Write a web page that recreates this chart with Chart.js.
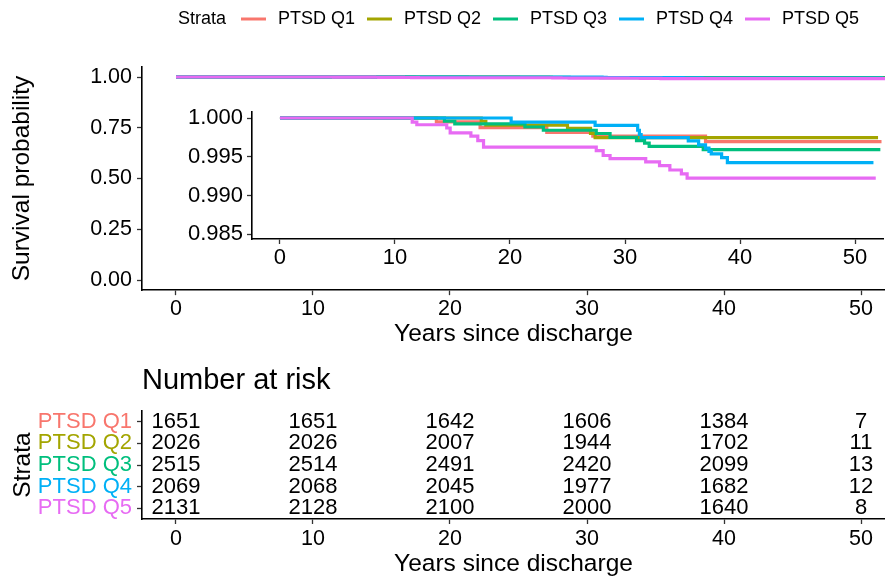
<!DOCTYPE html>
<html>
<head>
<meta charset="utf-8">
<script src="https://cdn.jsdelivr.net/npm/chart.js@4.4.0/dist/chart.umd.min.js"></script>
<style>
    html, body { margin: 0; padding: 0; background: #ffffff; }
    #wrap   { position: relative; width: 885px; height: 579px; overflow: hidden; background: #ffffff; }
    canvas  { position: absolute; }
    #main   { left: 0;     top: 0; }
    #inset  { left: 150px; top: 95px; }
    #risk   { left: 0;     top: 350px; }
</style>
</head>
<body>
<div id="wrap">
    <canvas id="main"  width="885" height="350"></canvas>
    <canvas id="inset" width="735" height="190"></canvas>
    <canvas id="risk"  width="885" height="229"></canvas>
</div>
<script>
/* ---- data ---- */

var STRATA = ['PTSD Q1', 'PTSD Q2', 'PTSD Q3', 'PTSD Q4', 'PTSD Q5'];

// Kaplan-Meier steps: time of each event and survival after it (last entry = end of follow-up)
var Q1_TIME = [0, 13.6, 17.4, 23.2, 27.2, 37.0, 52.3];
var Q1_SURV = [1, 0.99950, 0.99875, 0.99813, 0.99766, 0.99696, 0.99696];

var Q2_TIME = [0, 17.5, 17.9, 25.0, 27.0, 27.4, 52.0];
var Q2_SURV = [1, 0.99958, 0.99908, 0.99868, 0.99800, 0.99748, 0.99748];

var Q3_TIME = [0, 14.3, 15.2, 21.3, 22.9, 27.5, 28.7, 31.0, 31.7, 32.1, 36.8, 52.2];
var Q3_SURV = [1, 0.99958, 0.99925, 0.99884, 0.99842, 0.99800, 0.99750, 0.99709, 0.99675, 0.99634, 0.99592, 0.99592];

var Q4_TIME = [0, 20.1, 27.4, 31.1, 31.25, 31.4, 35.5, 36.4, 37.0, 37.3, 37.5, 38.4, 38.9, 51.6];
var Q4_SURV = [1, 0.99946, 0.99904, 0.99842, 0.99787, 0.99746, 0.99704, 0.99654, 0.99612, 0.99570, 0.99538, 0.99488, 0.99425, 0.99425];

var Q5_TIME = [0, 11.5, 11.9, 14.5, 14.8, 16.6, 17.2, 17.7, 27.5, 28.1, 28.7, 31.8, 33.0, 33.9, 34.9, 35.4, 51.8];
var Q5_SURV = [1, 0.99946, 0.99913, 0.99871, 0.99809, 0.99766, 0.99709, 0.99625, 0.99579, 0.99516, 0.99475, 0.99433, 0.99384, 0.99329, 0.99279, 0.99225, 0.99225];

var RISK_TIMES = [0, 10, 20, 30, 40, 50];
var RISK_Q1 = [1651, 1651, 1642, 1606, 1384, 7];
var RISK_Q2 = [2026, 2026, 2007, 1944, 1702, 11];
var RISK_Q3 = [2515, 2514, 2491, 2420, 2099, 13];
var RISK_Q4 = [2069, 2068, 2045, 1977, 1682, 12];
var RISK_Q5 = [2131, 2128, 2100, 2000, 1640, 8];

var X_TICKS       = [0, 10, 20, 30, 40, 50];
var Y_TICKS       = [0, 0.25, 0.5, 0.75, 1];
var INSET_Y_TICKS = [0.985, 0.99, 0.995, 1.0];

var LEGEND_TITLE = 'Strata';
var TABLE_TITLE  = 'Number at risk';
var X_TITLE      = 'Years since discharge';
var Y_TITLE      = 'Survival probability';

/* ---- style ---- */

var COLORS = ['#F8766D', '#A3A500', '#00BF7D', '#00B0F6', '#E76BF3'];
var FONT   = "'Liberation Sans', Arial, sans-serif";

var CURVES = [
    [Q1_TIME, Q1_SURV], [Q2_TIME, Q2_SURV], [Q3_TIME, Q3_SURV],
    [Q4_TIME, Q4_SURV], [Q5_TIME, Q5_SURV]
];
var RISKS = [RISK_Q1, RISK_Q2, RISK_Q3, RISK_Q4, RISK_Q5];

function curveSets(width) {
    return CURVES.map(function (c, k) {
        return {
            label: STRATA[k],
            data: c[0].map(function (t, i) { return { x: t, y: c[1][i] }; }),
            borderColor: COLORS[k],
            borderWidth: width,
            pointRadius: 0,
            fill: false,
            stepped: true,
            order: STRATA.length - k
        };
    });
}

function marks() {
    return { display: true, drawOnChartArea: false, drawTicks: true,
             tickLength: 5, tickWidth: 1.3, tickColor: '#333333' };
}

function setTicks(list) {
    return function (scale) {
        scale.ticks = list.map(function (v) { return { value: v }; });
    };
}

function fixWidth(w)  { return function (scale) { scale.width = w; }; }
function fixHeight(h) { return function (scale) { scale.height = h; }; }

var quiet = {
    legend:  { display: false },
    tooltip: { enabled: false },
    title:   { display: false }
};

/* ---- legend across the top ---- */

var strataLegend = {
    id: 'strataLegend',
    afterDraw: function (chart) {
        var ctx = chart.ctx, y = 19;
        ctx.save();
        ctx.font = '18px ' + FONT;
        ctx.textBaseline = 'middle';
        ctx.textAlign = 'left';
        ctx.fillStyle = '#000000';
        ctx.fillText(LEGEND_TITLE, 178, y);
        STRATA.forEach(function (name, k) {
            var tx = 278 + k * 126;
            ctx.strokeStyle = COLORS[k];
            ctx.lineWidth = 3;
            ctx.beginPath();
            ctx.moveTo(tx - 37, y);
            ctx.lineTo(tx - 12, y);
            ctx.stroke();
            ctx.fillText(name, tx, y);
        });
        ctx.restore();
    }
};

/* ---- main survival plot ---- */

new Chart(document.getElementById('main'), {
    type: 'line',
    data: { datasets: curveSets(3.2) },
    options: {
        responsive: false,
        animation: false,
        events: [],
        layout: { autoPadding: false, padding: { top: 66.85, left: 0, right: 0, bottom: 0 } },
        plugins: quiet,
        scales: {
            x: {
                type: 'linear', min: -2.48, max: 51.75,
                afterBuildTicks: setTicks(X_TICKS),
                afterFit: fixHeight(59.85),
                grid: marks(),
                border: { display: true, color: '#000000', width: 1.6 },
                ticks: { color: '#000000', font: { family: FONT, size: 21.5 }, padding: 1.5,
                         maxRotation: 0, autoSkip: false },
                title: { display: true, text: X_TITLE, color: '#000000',
                         font: { family: FONT, size: 24.5 }, padding: { top: 0, bottom: 1 } }
            },
            y: {
                type: 'linear', min: -0.05, max: 1.05,
                afterBuildTicks: setTicks(Y_TICKS),
                afterFit: fixWidth(142),
                grid: marks(),
                border: { display: true, color: '#000000', width: 1.6 },
                ticks: { color: '#000000', font: { family: FONT, size: 21.5 }, padding: 5,
                         autoSkip: false,
                         callback: function (v) { return Number(v).toFixed(2); } },
                title: { display: true, text: Y_TITLE, color: '#000000',
                         font: { family: FONT, size: 24.5 }, padding: { top: 7.6, bottom: 0 } }
            }
        }
    },
    plugins: [strataLegend]
});

/* ---- zoomed inset ---- */

new Chart(document.getElementById('inset'), {
    type: 'line',
    data: { datasets: curveSets(3.2) },
    options: {
        responsive: false,
        animation: false,
        events: [],
        layout: { autoPadding: false, padding: { top: 13, left: 0, right: 2, bottom: 0 } },
        plugins: quiet,
        scales: {
            x: {
                type: 'linear', min: -2.43, max: 52.43,
                afterBuildTicks: setTicks(X_TICKS),
                afterFit: fixHeight(46),
                grid: marks(),
                border: { display: true, color: '#000000', width: 1.6 },
                ticks: { color: '#000000', font: { family: FONT, size: 22 }, padding: 1,
                         maxRotation: 0, autoSkip: false }
            },
            y: {
                type: 'linear', min: 0.98438, max: 1.00075,
                afterBuildTicks: setTicks(INSET_Y_TICKS),
                afterFit: fixWidth(102),
                grid: marks(),
                border: { display: true, color: '#000000', width: 1.6 },
                ticks: { color: '#000000', font: { family: FONT, size: 22 }, padding: 4,
                         autoSkip: false,
                         callback: function (v) { return Number(v).toFixed(3); } }
            }
        }
    }
});

/* ---- number at risk table ---- */

var riskText = {
    id: 'riskText',
    afterDatasetsDraw: function (chart) {
        var ctx = chart.ctx;
        ctx.save();
        ctx.fillStyle = '#000000';
        ctx.font = '22px ' + FONT;
        ctx.textAlign = 'center';
        ctx.textBaseline = 'middle';
        chart.data.datasets.forEach(function (ds, i) {
            chart.getDatasetMeta(i).data.forEach(function (pt, j) {
                ctx.fillText(String(ds.data[j].n), pt.x, pt.y);
            });
        });
        ctx.textAlign = 'left';
        ctx.font = '29px ' + FONT;
        ctx.fillText(TABLE_TITLE, chart.chartArea.left, 31);
        ctx.restore();
    }
};

new Chart(document.getElementById('risk'), {
    type: 'scatter',
    data: {
        datasets: RISKS.map(function (row, k) {
            return {
                label: STRATA[k],
                data: RISK_TIMES.map(function (t, i) { return { x: t, y: STRATA[k], n: row[i] }; }),
                pointRadius: 0,
                showLine: false
            };
        })
    },
    options: {
        responsive: false,
        animation: false,
        events: [],
        layout: { autoPadding: false, padding: { top: 61, left: 0, right: 0, bottom: 0 } },
        plugins: quiet,
        scales: {
            x: {
                type: 'linear', min: -2.48, max: 51.75,
                afterBuildTicks: setTicks(X_TICKS),
                afterFit: fixHeight(60),
                grid: marks(),
                border: { display: true, color: '#000000', width: 1.6 },
                ticks: { color: '#000000', font: { family: FONT, size: 21.5 }, padding: 2.5,
                         maxRotation: 0, autoSkip: false },
                title: { display: true, text: X_TITLE, color: '#000000',
                         font: { family: FONT, size: 24.5 }, padding: { top: 0, bottom: 0 } }
            },
            y: {
                type: 'category', labels: STRATA, offset: true,
                afterFit: fixWidth(142),
                grid: Object.assign(marks(), { offset: false }),
                border: { display: true, color: '#000000', width: 1.6 },
                ticks: { font: { family: FONT, size: 22 }, padding: 5, autoSkip: false,
                         color: function (c) { return COLORS[c.index]; } },
                title: { display: true, text: LEGEND_TITLE, color: '#000000',
                         font: { family: FONT, size: 24.5 }, padding: { top: 8.6, bottom: 0 } }
            }
        }
    },
    plugins: [riskText]
});
</script>
</body>
</html>
